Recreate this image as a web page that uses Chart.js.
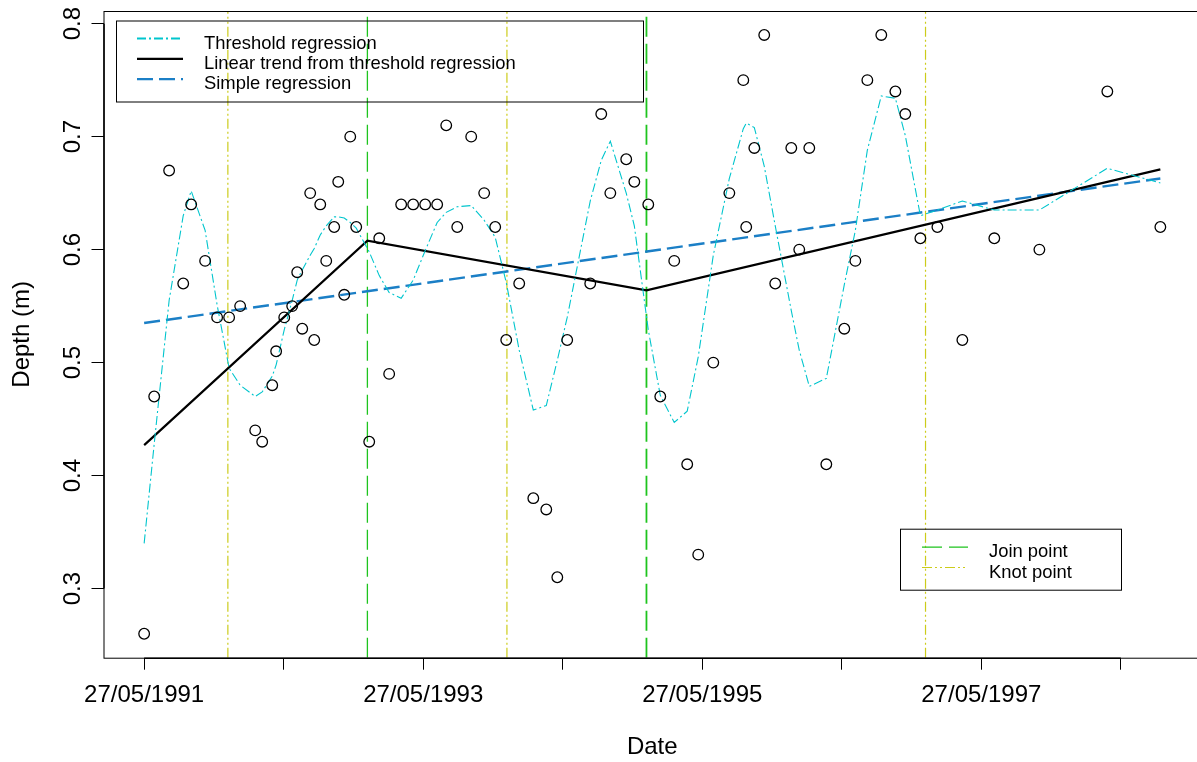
<!DOCTYPE html>
<html>
<head>
<meta charset="utf-8">
<title>Depth threshold regression</title>
<script src="https://cdn.jsdelivr.net/npm/chart.js@4.4.1/dist/chart.umd.min.js"></script>
<style>
    html, body { margin: 0; padding: 0; background: #fff; overflow: hidden; }
    #wrap { position: relative; width: 1201px; height: 762px; }
</style>
</head>
<body>
<div id="wrap"><canvas id="depth-chart"></canvas></div>
<script>
// ---------- DATA ----------
// sample dates as decimal years (27/05/1991 = 1991.4)
const sampleTime = [
    1991.400, 1991.472, 1991.579, 1991.680, 1991.737, 1991.837, 1991.923, 1992.009, 1992.088, 1992.196,
    1992.246, 1992.318, 1992.346, 1992.404, 1992.461, 1992.497, 1992.533, 1992.590, 1992.619, 1992.662,
    1992.705, 1992.762, 1992.791, 1992.834, 1992.877, 1992.920, 1993.013, 1993.085, 1993.156, 1993.242,
    1993.328, 1993.414, 1993.500, 1993.565, 1993.644, 1993.744, 1993.837, 1993.916, 1993.995, 1994.088,
    1994.189, 1994.282, 1994.361, 1994.432, 1994.597, 1994.676, 1994.741, 1994.855, 1994.913, 1995.013,
    1995.099, 1995.199, 1995.292, 1995.371, 1995.479, 1995.594, 1995.694, 1995.715, 1995.773, 1995.844,
    1995.923, 1996.038, 1996.095, 1996.167, 1996.289, 1996.418, 1996.497, 1996.583, 1996.683, 1996.784,
    1996.855, 1996.963, 1997.085, 1997.264, 1997.493, 1997.816, 1998.303, 1998.683
];

// measured depth (m)
const depth = [
    0.26, 0.47, 0.67, 0.57, 0.64, 0.59, 0.54, 0.54, 0.55, 0.44,
    0.43, 0.48, 0.51, 0.54, 0.55, 0.58, 0.53, 0.65, 0.52, 0.64,
    0.59, 0.62, 0.66, 0.56, 0.70, 0.62, 0.43, 0.61, 0.49, 0.64,
    0.64, 0.64, 0.64, 0.71, 0.62, 0.70, 0.65, 0.62, 0.52, 0.57,
    0.38, 0.37, 0.31, 0.52, 0.57, 0.72, 0.65, 0.68, 0.66, 0.64,
    0.47, 0.59, 0.41, 0.33, 0.50, 0.65, 0.75, 0.62, 0.69, 0.79,
    0.57, 0.69, 0.60, 0.69, 0.41, 0.53, 0.59, 0.75, 0.79, 0.74,
    0.72, 0.61, 0.62, 0.52, 0.61, 0.60, 0.74, 0.62
];

// fitted values of the threshold regression at each sample date
const thresholdFit = [
    0.340, 0.428, 0.555, 0.630, 0.652, 0.617, 0.551, 0.495, 0.480, 0.470,
    0.474, 0.488, 0.498, 0.529, 0.555, 0.573, 0.582, 0.595, 0.601, 0.613,
    0.621, 0.629, 0.629, 0.628, 0.624, 0.619, 0.598, 0.577, 0.562, 0.557,
    0.573, 0.599, 0.624, 0.633, 0.638, 0.639, 0.626, 0.611, 0.571, 0.511,
    0.458, 0.462, 0.502, 0.540, 0.643, 0.679, 0.696, 0.650, 0.621, 0.529,
    0.471, 0.447, 0.457, 0.505, 0.595, 0.663, 0.707, 0.712, 0.708, 0.674,
    0.621, 0.546, 0.511, 0.479, 0.486, 0.569, 0.617, 0.688, 0.736, 0.734,
    0.701, 0.630, 0.635, 0.643, 0.635, 0.635, 0.672, 0.659
];

// piecewise linear trend (breaks at the join points)
const trendTime = [1991.400, 1993.000, 1995.000, 1998.683];
const trendDepth = [0.427, 0.608, 0.564, 0.671];

// ordinary least squares line
const simpleTime = [1991.400, 1998.683];
const simpleDepth = [0.535, 0.663];

const joinPoints = [1993.0, 1995.0];
const knotPoints = [1992.0, 1994.0, 1997.0];

const xTickValues = [1991.4, 1992.4, 1993.4, 1994.4, 1995.4, 1996.4, 1997.4, 1998.4];
const xTickLabels = ['27/05/1991', '', '27/05/1993', '', '27/05/1995', '', '27/05/1997', ''];
const yTickValues = [0.3, 0.4, 0.5, 0.6, 0.7, 0.8];
const yTickLabels = ['0.3', '0.4', '0.5', '0.6', '0.7', '0.8'];

const fitLabels = ['Threshold regression', 'Linear trend from threshold regression', 'Simple regression'];
const refLabels = ['Join point', 'Knot point'];

// ---------- STYLES ----------
const FONT = "'Liberation Sans', Arial, Helvetica, sans-serif";
const CYAN = '#00C5CD';
const BLUE = '#1B7FC6';
const GREEN = '#1EC41E';
const YELLOW = '#CCCC1A';

const DASH_THRESHOLD = [9, 3, 2, 3];
const DASH_SIMPLE = [16, 6];
const DASH_JOIN = [20, 7];
const DASH_KNOT = [10, 3, 2, 3, 2, 3];

// axis limits padded by 4% like a base R plot
const padRange = (lo, hi) => [lo - 0.04 * (hi - lo), hi + 0.04 * (hi - lo)];
const [xMin, xMax] = padRange(Math.min(...sampleTime), Math.max(...sampleTime));
const [yMin, yMax] = padRange(Math.min(...depth), Math.max(...depth));

const toPoints = (xs, ys) => xs.map((x, i) => ({ x, y: ys[i] }));
const vertical = x => [{ x, y: yMin }, { x, y: yMax }];

const datasets = [
    {
        label: 'Depth',
        data: toPoints(sampleTime, depth),
        showLine: false,
        pointRadius: 5.3,
        pointBorderWidth: 1.3,
        pointBorderColor: '#000',
        pointBackgroundColor: 'rgba(0,0,0,0)'
    },
    {
        label: fitLabels[0],
        data: toPoints(sampleTime, thresholdFit),
        borderColor: CYAN,
        borderWidth: 1.1,
        borderDash: DASH_THRESHOLD
    },
    {
        label: fitLabels[1],
        data: toPoints(trendTime, trendDepth),
        borderColor: '#000',
        borderWidth: 2.2
    },
    {
        label: fitLabels[2],
        data: toPoints(simpleTime, simpleDepth),
        borderColor: BLUE,
        borderWidth: 2.4,
        borderDash: DASH_SIMPLE
    }
];
joinPoints.forEach((j, i) => datasets.push({
    label: refLabels[0],
    data: vertical(j),
    borderColor: GREEN,
    borderWidth: i === 0 ? 1.3 : 1.8,
    borderDash: DASH_JOIN
}));
knotPoints.forEach(k => datasets.push({
    label: refLabels[1],
    data: vertical(k),
    borderColor: YELLOW,
    borderWidth: 1.2,
    borderDash: DASH_KNOT
}));
datasets.forEach(d => {
    d.showLine = d.showLine !== false;
    if (d.showLine) d.pointRadius = 0;
    d.tension = 0;
    d.fill = false;
});

// ---------- PLOT FRAME & KEYS ----------
const frame = {
    id: 'frame',
    afterDraw(chart) {
        const { ctx, chartArea: a, scales: { x, y } } = chart;
        ctx.save();
        ctx.strokeStyle = '#000';
        ctx.lineWidth = 1;
        ctx.setLineDash([]);
        ctx.strokeRect(a.left + 0.5, a.top + 0.5, a.right - a.left, a.bottom - a.top);
        // axis lines between the outer ticks
        ctx.lineWidth = 1.5;
        ctx.beginPath();
        ctx.moveTo(x.getPixelForValue(xTickValues[0]), a.bottom + 0.5);
        ctx.lineTo(x.getPixelForValue(xTickValues[xTickValues.length - 1]), a.bottom + 0.5);
        ctx.moveTo(a.left + 0.5, y.getPixelForValue(yTickValues[0]));
        ctx.lineTo(a.left + 0.5, y.getPixelForValue(yTickValues[yTickValues.length - 1]));
        ctx.stroke();
        ctx.restore();
    }
};

function drawKey(ctx, box, items) {
    ctx.save();
    ctx.setLineDash([]);
    ctx.strokeStyle = '#000';
    ctx.lineWidth = 1;
    ctx.strokeRect(box.x + 0.5, box.y + 0.5, box.w, box.h);
    ctx.font = '18.4px ' + FONT;
    ctx.textBaseline = 'alphabetic';
    ctx.textAlign = 'left';
    items.forEach((it, i) => {
        const ly = box.y + box.first + i * box.gap;
        ctx.beginPath();
        ctx.strokeStyle = it.color;
        ctx.lineWidth = it.width;
        ctx.setLineDash(it.dash);
        ctx.moveTo(box.x + box.lineFrom, ly);
        ctx.lineTo(box.x + box.lineFrom + 46, ly);
        ctx.stroke();
        ctx.setLineDash([]);
        ctx.fillStyle = '#000';
        ctx.fillText(it.label, box.x + box.textAt, ly + 10);
    });
    ctx.restore();
}

const keys = {
    id: 'keys',
    afterDraw(chart) {
        const { ctx, chartArea: a } = chart;
        drawKey(ctx, { x: a.left + 12.5, y: a.top + 9.5, w: 527, h: 81, first: 18, gap: 20.3, lineFrom: 21, textAt: 88 }, [
            { label: fitLabels[0], color: CYAN, width: 2, dash: DASH_THRESHOLD },
            { label: fitLabels[1], color: '#000', width: 2.2, dash: [] },
            { label: fitLabels[2], color: BLUE, width: 2.4, dash: DASH_SIMPLE }
        ]);
        drawKey(ctx, { x: a.left + 796.5, y: a.bottom - 129, w: 221, h: 61, first: 18.5, gap: 20.3, lineFrom: 22, textAt: 89 }, [
            { label: refLabels[0], color: GREEN, width: 1.3, dash: DASH_JOIN },
            { label: refLabels[1], color: YELLOW, width: 1.2, dash: DASH_KNOT }
        ]);
    }
};

// ---------- CHART ----------
Chart.defaults.font.family = FONT;
Chart.defaults.color = '#000';

const tickGrid = {
    drawOnChartArea: false,
    drawTicks: true,
    tickLength: 12,
    tickColor: '#000',
    tickWidth: 1,
    color: '#000'
};

// keep the plot region fixed: no extra room for overhanging labels
const noOverhang = s => {
    s.paddingLeft = 0;
    s.paddingRight = 0;
    s.paddingTop = 0;
    s.paddingBottom = 0;
};

new Chart(document.getElementById('depth-chart'), {
    type: 'scatter',
    data: { datasets },
    options: {
        responsive: true,
        maintainAspectRatio: false,
        animation: false,
        devicePixelRatio: 1,
        layout: { autoPadding: false, padding: { top: 11, right: 0, bottom: 0, left: 0 } },
        plugins: { legend: { display: false }, tooltip: { enabled: false } },
        scales: {
            x: {
                type: 'linear',
                min: xMin,
                max: xMax,
                afterBuildTicks: s => { s.ticks = xTickValues.map(v => ({ value: v })); },
                afterFit: s => { s.height = 104.3; noOverhang(s); },
                grid: tickGrid,
                border: { display: false },
                ticks: {
                    autoSkip: false, minRotation: 0, maxRotation: 0, padding: 11,
                    font: { size: 24 }, color: '#000',
                    callback: (v, i) => xTickLabels[i]
                },
                title: { display: true, text: 'Date', color: '#000', font: { size: 24 }, padding: { top: 0, bottom: 0 } }
            },
            y: {
                type: 'linear',
                min: yMin,
                max: yMax,
                afterBuildTicks: s => { s.ticks = yTickValues.map(v => ({ value: v })); },
                afterFit: s => { s.width = 103.5; noOverhang(s); },
                grid: tickGrid,
                border: { display: false },
                ticks: {
                    autoSkip: false, minRotation: 90, maxRotation: 90, crossAlign: 'center', padding: 1,
                    font: { size: 24 }, color: '#000',
                    callback: (v, i) => yTickLabels[i]
                },
                title: { display: true, text: 'Depth (m)', color: '#000', font: { size: 24 }, padding: { top: 8, bottom: 0 } }
            }
        }
    },
    plugins: [frame, keys]
});
</script>
</body>
</html>
